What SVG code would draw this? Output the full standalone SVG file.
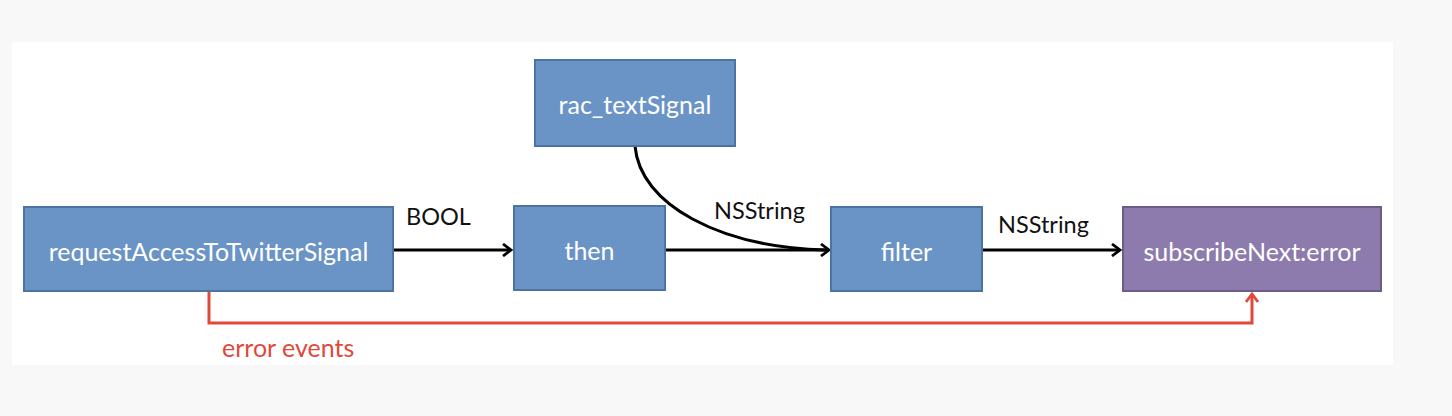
<svg xmlns="http://www.w3.org/2000/svg" width="1452" height="416" viewBox="0 0 1452 416">
<defs>
<style>
.node rect{stroke-width:2}
.blue rect{fill:#6b94c6;stroke:#4d73a3}
.purple rect{fill:#8d7bad;stroke:#6c5c8c}
.node text{fill:#ffffff;font-family:Lato,"Open Sans",sans-serif;font-size:25px;text-anchor:middle;dominant-baseline:central}
.lbl{fill:#111;font-family:Lato,"Open Sans",sans-serif;font-size:23.5px}
.err{fill:#e0493a;font-family:Lato,"Open Sans",sans-serif;font-size:25px}
.conn{fill:none;stroke:#000;stroke-width:3}
.red{fill:none;stroke:#e0493a;stroke-width:3}
</style>
<marker id="ah" viewBox="0 0 14 14" refX="12" refY="7" markerWidth="14" markerHeight="14" markerUnits="userSpaceOnUse" orient="auto">
<path d="M4,1 L12,7 L4,13" fill="none" stroke="#000" stroke-width="2.8"/>
</marker>
<marker id="ahr" viewBox="0 0 14 14" refX="12" refY="7" markerWidth="14" markerHeight="14" markerUnits="userSpaceOnUse" orient="auto">
<path d="M4,1 L12,7 L4,13" fill="none" stroke="#e0493a" stroke-width="2.8"/>
</marker>
</defs>
<rect x="0" y="0" width="1452" height="416" fill="#f8f8f8"/>
<rect x="12" y="42" width="1381" height="323" fill="#ffffff"/>
<g id="connectors">
<path class="conn" d="M394,250 L511,250" marker-end="url(#ah)"/>
<path class="conn" d="M666,250 L829,250" marker-end="url(#ah)"/>
<path class="conn" d="M635,146 C640,205 720,247 825,250"/>
<path class="conn" d="M983,250 L1120,250" marker-end="url(#ah)"/>
<path class="red" d="M209,292 L209,323 L1252,323 L1252,294" marker-end="url(#ahr)"/>
<text class="lbl" x="406" y="225">BOOL</text>
<text class="lbl" x="714" y="219">NSString</text>
<text class="lbl" x="998" y="233">NSString</text>
<text class="err" x="222" y="357">error events</text>
</g>
<g id="requestAccess" class="node blue"><rect x="24" y="207" width="369" height="84"/><text x="208.5" y="251">requestAccessToTwitterSignal</text></g>
<g id="then" class="node blue"><rect x="514" y="206" width="151" height="84"/><text x="589.5" y="250">then</text></g>
<g id="racText" class="node blue"><rect x="535" y="60" width="200" height="86"/><text x="635" y="104">rac_textSignal</text></g>
<g id="filter" class="node blue"><rect x="831" y="207" width="151" height="84"/><text x="906.5" y="251">filter</text></g>
<g id="subscribe" class="node purple"><rect x="1123" y="207" width="258" height="84"/><text x="1252" y="251">subscribeNext:error</text></g>
</svg>
